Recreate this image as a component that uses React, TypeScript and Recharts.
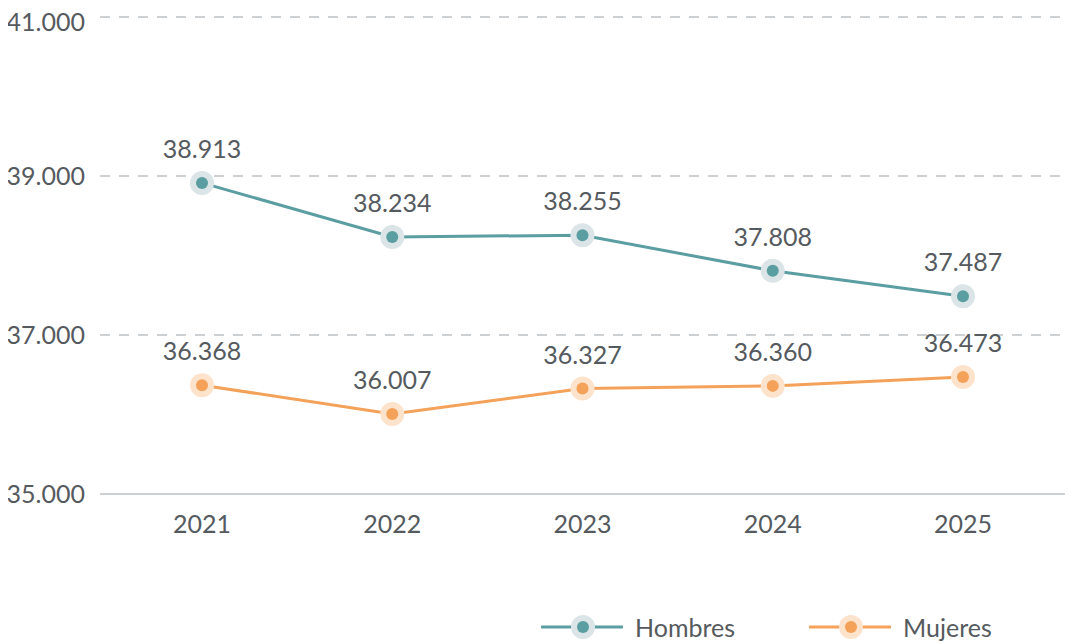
import React from "react";
import { LineChart, Line, XAxis, YAxis, CartesianGrid, LabelList, ReferenceLine } from "recharts";

const years = ["2021", "2022", "2023", "2024", "2025"];
const hombres = [38913, 38234, 38255, 37808, 37487];
const mujeres = [36368, 36007, 36327, 36360, 36473];
const yTicks = [35000, 37000, 39000, 41000];

const data = years.map((y, i) => ({ year: y, Hombres: hombres[i], Mujeres: mujeres[i] }));

const TEAL = "#5b9ea1";
const TEAL_HALO = "#dbe4e7";
const ORANGE = "#f4a159";
const ORANGE_HALO = "#fde3cc";
const TEXT = "#555a5e";
const FONT = "Lato, 'Open Sans', sans-serif";
const FS = 25;

const fmt = (v: number) => v.toLocaleString("de-DE");

const makeDot = (color: string, halo: string) => (props: any) => {
  const { cx, cy, index } = props;
  return (
    <g key={`d-${index}`}>
      <circle cx={cx} cy={cy} r={12} fill={halo} />
      <circle cx={cx} cy={cy} r={6} fill={color} />
    </g>
  );
};

const LegendItem = ({ color, halo, label }: { color: string; halo: string; label: string }) => (
  <div style={{ display: "flex", alignItems: "center" }}>
    <svg width={82} height={26}>
      <line x1={1} y1={13} x2={81} y2={13} stroke={color} strokeWidth={3} strokeLinecap="round" />
      <circle cx={42} cy={13} r={12} fill={halo} />
      <circle cx={42} cy={13} r={6} fill={color} />
    </svg>
    <span style={{ marginLeft: 12, fontSize: FS, color: TEXT, fontFamily: FONT, lineHeight: "26px" }}>{label}</span>
  </div>
);

export default function App() {
  return (
    <div style={{ width: 1065, height: 636, position: "relative", fontFamily: FONT }}>
      <style>{`.recharts-surface, .recharts-wrapper { overflow: visible !important; }`}</style>
      <LineChart
        width={1065}
        height={636}
        data={data}
        margin={{ top: 9, right: 1, bottom: 120, left: 0 }}
      >
        <CartesianGrid vertical={false} stroke="#cdd0d2" strokeWidth={2} strokeDasharray="10 9" />
        <ReferenceLine y={35000} stroke="#cdd0d2" strokeWidth={2} />
        <XAxis
          dataKey="year"
          axisLine={false}
          tickLine={false}
          tickSize={0}
          tickMargin={21}
          padding={{ left: 102, right: 109 }}
          tick={{ fill: TEXT, fontSize: FS, fontFamily: FONT }}
        />
        <YAxis
          width={92}
          domain={[35000, 41000]}
          ticks={yTicks}
          axisLine={false}
          tickLine={false}
          tickSize={0}
          tickMargin={15}
          tickFormatter={fmt}
          tick={{ fill: TEXT, fontSize: FS, fontFamily: FONT }}
        />
        <Line
          dataKey="Hombres"
          stroke={TEAL}
          strokeWidth={3}
          isAnimationActive={false}
          dot={makeDot(TEAL, TEAL_HALO)}
          activeDot={false}
        >
          <LabelList dataKey="Hombres" position="top" offset={25} formatter={fmt} fill={TEXT} fontSize={FS} fontFamily={FONT} />
        </Line>
        <Line
          dataKey="Mujeres"
          stroke={ORANGE}
          strokeWidth={3}
          isAnimationActive={false}
          dot={makeDot(ORANGE, ORANGE_HALO)}
          activeDot={false}
        >
          <LabelList dataKey="Mujeres" position="top" offset={25} formatter={fmt} fill={TEXT} fontSize={FS} fontFamily={FONT} />
        </Line>
      </LineChart>
      <div style={{ position: "absolute", left: 533, top: 606, display: "flex", alignItems: "center" }}>
        <LegendItem color={TEAL} halo={TEAL_HALO} label="Hombres" />
        <div style={{ width: 74 }} />
        <LegendItem color={ORANGE} halo={ORANGE_HALO} label="Mujeres" />
      </div>
    </div>
  );
}
